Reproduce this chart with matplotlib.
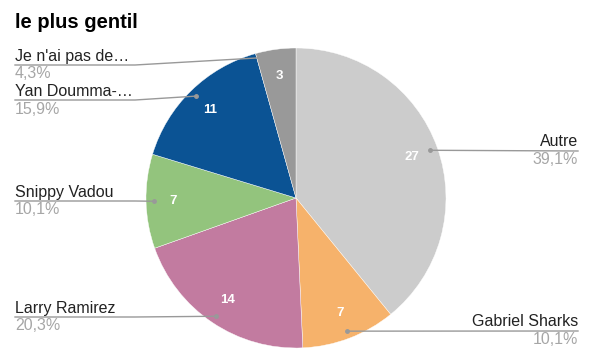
import numpy as np
import matplotlib
matplotlib.use('Agg')
import matplotlib.pyplot as plt

plt.rcParams['font.family'] = ['Liberation Sans', 'DejaVu Sans']

# données
labels = ['Autre', 'Gabriel Sharks', 'Larry Ramirez', 'Snippy Vadou', 'Yan Doumma-…', "Je n'ai pas de…"]
values = [27, 7, 14, 7, 11, 3]
colors = ['#cccccc', '#f6b26b', '#c27ba0', '#93c47d', '#0b5394', '#999999']
# côté et hauteur (pixels depuis le haut) de chaque étiquette
label_side = ['right', 'right', 'left', 'left', 'left', 'left']
label_y = [151, 331, 317, 201, 100, 65]

W, H = 589, 362
fig = plt.figure(figsize=(W / 100, H / 100), dpi=100)
ax = fig.add_axes([0, 0, 1, 1])

cx, cy, R = 296, H - 198, 150
total = sum(values)

wedges, _, autotexts = ax.pie(values, colors=colors, startangle=90, counterclock=False,
                              center=(cx, cy), radius=R, autopct=lambda p: '%d' % round(p * total / 100),
                              pctdistance=0.82, frame=True,
                              wedgeprops=dict(edgecolor='white', linewidth=0.3),
                              textprops=dict(color='white', fontsize=9.5, fontweight='bold'))
ax.set_xlim(0, W)
ax.set_ylim(0, H)
ax.set_aspect('equal')
ax.axis('off')

fig.text(15 / W, 1 - 23 / H, 'le plus gentil', fontsize=14.5, fontweight='bold',
         color='#000000', va='center', ha='left')

start = 90.0
for i, v in enumerate(values):
    span = v / total * 360
    mid = np.radians(start - span / 2)
    start -= span
    dx, dy = cx + 0.95 * R * np.cos(mid), cy + 0.95 * R * np.sin(mid)
    ly = H - label_y[i]
    pct = ('%.1f' % (v / total * 100)).replace('.', ',') + '%'
    if label_side[i] == 'right':
        xs = [dx, 578]
        ys = [dy, ly]
        tx, ha = 578, 'right'
    else:
        bend = min(135, dx - 10)
        xs = [15, bend, dx]
        ys = [ly, ly, dy]
        tx, ha = 15, 'left'
    ax.plot(xs, ys, color='#999999', lw=1)
    ax.plot(dx, dy, 'o', ms=2.5, color='#999999')
    ax.text(tx, ly + 1.5, labels[i], ha=ha, va='bottom', fontsize=11.5, color='#222222')
    ax.text(tx, ly - 1.5, pct, ha=ha, va='top', fontsize=11.5, color='#a6a6a6')

fig.savefig('out.png', dpi=100, facecolor='white')
